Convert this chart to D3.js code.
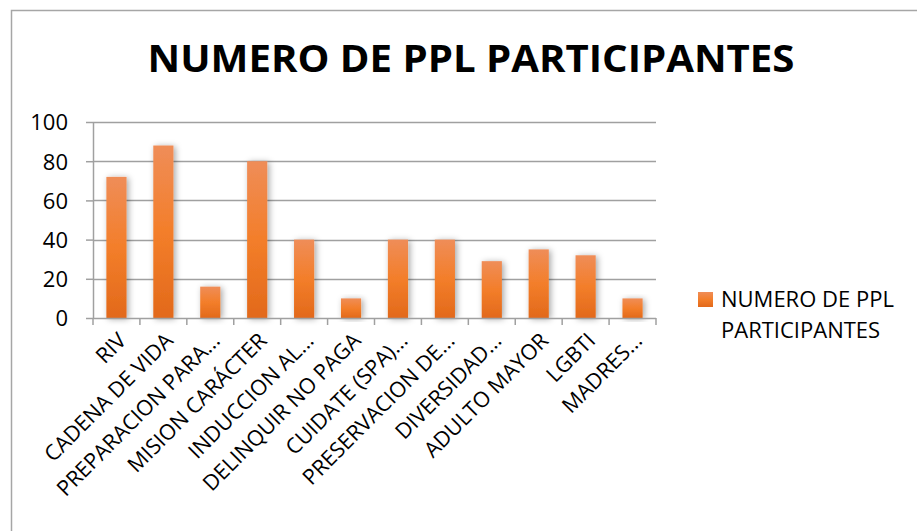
<!DOCTYPE html>
<html lang="es">
<head>
<meta charset="utf-8">
<title>NUMERO DE PPL PARTICIPANTES</title>
<script src="https://cdn.jsdelivr.net/npm/d3@7"></script>
<style>
	body { margin: 0; padding: 0; background: #fff; }
	svg text { font-family: "Open Sans", "Noto Sans", sans-serif; fill: #000; }
	.tick text { font-size: 22px; }
</style>
</head>
<body>
<div id="chart"></div>
<script>

	// Data
	var categories = ["RIV", "CADENA DE VIDA", "PREPARACION PARA...", "MISION CARÁCTER",
		"INDUCCION AL...", "DELINQUIR NO PAGA", "CUIDATE (SPA)...", "PRESERVACION DE...",
		"DIVERSIDAD...", "ADULTO MAYOR", "LGBTI", "MADRES..."];
	var participantes = [72, 88, 16, 80, 40, 10, 40, 40, 29, 35, 32, 10];
	var yTicks = [0, 20, 40, 60, 80, 100];
	var seriesName = "NUMERO DE PPL PARTICIPANTES";
	var legendLines = ["NUMERO DE PPL", "PARTICIPANTES"];

	var width = 917, height = 531;
	var margin = { top: 122, right: 261, bottom: 213, left: 93 };
	var w = width - margin.left - margin.right;
	var h = height - margin.top - margin.bottom;

	var svg = d3.select("#chart").append("svg")
		.attr("width", width)
		.attr("height", height);

	// gradient + shadow for the bars
	var defs = svg.append("defs");
	var grad = defs.append("linearGradient")
		.attr("id", "barGrad")
		.attr("x1", 0).attr("y1", 0).attr("x2", 0).attr("y2", 1);
	grad.append("stop").attr("offset", "0%").attr("stop-color", "#EF8D58");
	grad.append("stop").attr("offset", "50%").attr("stop-color", "#F37E2A");
	grad.append("stop").attr("offset", "100%").attr("stop-color", "#E2691B");

	var shadow = defs.append("filter").attr("id", "shadow")
		.attr("x", "-50%").attr("y", "-20%").attr("width", "200%").attr("height", "140%");
	shadow.append("feDropShadow")
		.attr("dx", 2).attr("dy", 1).attr("stdDeviation", 3)
		.attr("flood-color", "#000").attr("flood-opacity", 0.35);

	// outer chart border
	svg.append("rect")
		.attr("x", 11.5).attr("y", 10.5)
		.attr("width", width).attr("height", height)
		.attr("fill", "none")
		.attr("stroke", "#A6A6A6")
		.attr("stroke-width", 1.5);

	// title
	svg.append("text")
		.attr("x", 471).attr("y", 72)
		.attr("text-anchor", "middle")
		.attr("textLength", 647)
		.attr("lengthAdjust", "spacingAndGlyphs")
		.style("font-size", "37px")
		.style("font-weight", "bold")
		.text(seriesName);

	var g = svg.append("g")
		.attr("transform", "translate(" + margin.left + "," + margin.top + ")");

	var x = d3.scaleBand()
		.domain(categories)
		.range([0, w])
		.paddingInner(0.57)
		.paddingOuter(0.285);

	var y = d3.scaleLinear()
		.domain([0, 100])
		.range([h, 0]);

	// gridlines
	g.append("g")
		.selectAll("line")
		.data(yTicks.slice(1))
		.enter().append("line")
		.attr("x1", 0).attr("x2", w)
		.attr("y1", function (d) { return Math.round(y(d)) + 0.5; })
		.attr("y2", function (d) { return Math.round(y(d)) + 0.5; })
		.attr("stroke", "#A0A0A0")
		.attr("stroke-width", 1.5);

	// y axis
	var yAxis = g.append("g")
		.attr("class", "y-axis")
		.call(d3.axisLeft(y).tickValues(yTicks).tickSize(7).tickPadding(18));
	yAxis.selectAll("line, path").attr("stroke", "#A0A0A0").attr("stroke-width", 1.5);
	yAxis.select(".domain").attr("d", "M0.5," + h + "V0");
	yAxis.selectAll(".tick text").attr("dy", "0.36em");

	// bars
	g.append("g")
		.selectAll("rect")
		.data(participantes)
		.enter().append("rect")
		.attr("x", function (d, i) { return x(categories[i]); })
		.attr("y", function (d) { return y(d); })
		.attr("width", x.bandwidth())
		.attr("height", function (d) { return h - y(d); })
		.attr("fill", "url(#barGrad)")
		.attr("filter", "url(#shadow)");

	// x axis baseline + category boundary ticks
	var xAxis = g.append("g")
		.attr("transform", "translate(0," + h + ")");
	xAxis.append("line")
		.attr("x1", 0).attr("x2", w)
		.attr("y1", 0.5).attr("y2", 0.5)
		.attr("stroke", "#A0A0A0").attr("stroke-width", 1.5);
	xAxis.selectAll("line.tk")
		.data(d3.range(categories.length + 1))
		.enter().append("line")
		.attr("class", "tk")
		.attr("x1", function (d) { return d * w / categories.length; })
		.attr("x2", function (d) { return d * w / categories.length; })
		.attr("y1", 0).attr("y2", 7)
		.attr("stroke", "#A0A0A0").attr("stroke-width", 1.5);

	// rotated category labels
	xAxis.selectAll("text")
		.data(categories)
		.enter().append("text")
		.attr("text-anchor", "end")
		.attr("transform", function (d) {
			var cx = x(d) + x.bandwidth() / 2 + 11;
			return "translate(" + cx + ",24) rotate(-45)";
		})
		.style("font-size", "21.5px")
		.text(function (d) { return d; });

	// legend
	var legend = svg.append("g").attr("transform", "translate(698,292)");
	legend.append("rect")
		.attr("width", 15).attr("height", 15)
		.attr("fill", "url(#barGrad)");
	legend.selectAll("text")
		.data(legendLines)
		.enter().append("text")
		.attr("x", 23)
		.attr("y", function (d, i) { return 15 + i * 31; })
		.style("font-size", "22px")
		.text(function (d) { return d; });

</script>
</body>
</html>
